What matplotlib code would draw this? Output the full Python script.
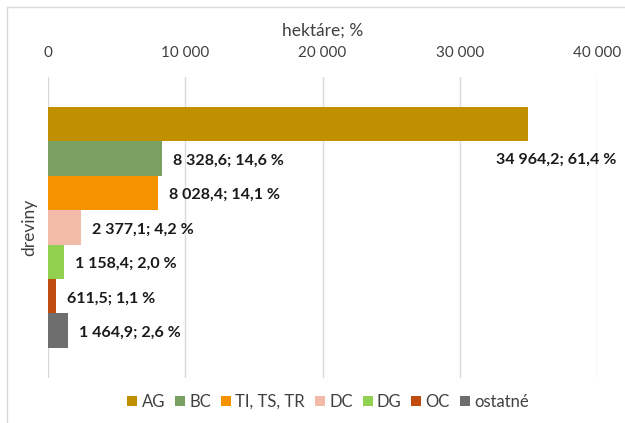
import matplotlib.pyplot as plt
from matplotlib.lines import Line2D

# data
category = 'dreviny'
series = ['AG', 'BC', 'TI, TS, TR', 'DC', 'DG', 'OC', 'ostatné']
hectares = [34964.2, 8328.6, 8028.4, 2377.1, 1158.4, 611.5, 1464.9]
percent = [61.4, 14.6, 14.1, 4.2, 2.0, 1.1, 2.6]
colors = ['#C09000', '#7A9F62', '#F59200', '#F2BBA8', '#92D050', '#C04D0F', '#6E6E6E']
xticks = [0, 10000, 20000, 30000, 40000]

plt.rcParams['font.family'] = ['Lato', 'DejaVu Sans']


def fmt_num(v, dec=1):
    s = f"{v:,.{dec}f}"
    return s.replace(',', ' ').replace('.', ',')


fig = plt.figure(figsize=(6.25, 4.23), dpi=100)
ax = fig.add_axes([48 / 625, 1 - 378 / 423, 549 / 625, 301 / 423])

n = len(series)
h = 0.8 / n
for i, (name, v, c) in enumerate(zip(series, hectares, colors)):
    y = (i - (n - 1) / 2) * h
    ax.barh(y, v, height=h, color=c, label=name, zorder=3)
    lbl = f"{fmt_num(v)}; {fmt_num(percent[i])} %"
    if i == 0:
        # label doesn't fit to the right, Excel put it below the bar
        ax.annotate(lbl, (v, y), xytext=(28, -35), textcoords='offset pixels',
                    ha='center', va='center', fontsize=11.5, fontweight='bold',
                    color='#1a1a1a', annotation_clip=False)
    else:
        ax.annotate(lbl, (v, y), xytext=(11, -2), textcoords='offset pixels',
                    ha='left', va='center', fontsize=11.5, fontweight='bold',
                    color='#1a1a1a')

ax.set_ylim(0.5, -0.5)
ax.set_xlim(0, 40000)
ax.set_yticks([])
ax.set_xticks(xticks)
ax.set_xticklabels([fmt_num(t, 0) for t in xticks], fontsize=11, color='#404040')
ax.xaxis.tick_top()
ax.xaxis.set_label_position('top')
ax.tick_params(axis='x', length=0, pad=12)
ax.set_xlabel('hektáre; %', fontsize=12.5, color='#404040', labelpad=8)
ax.set_ylabel(category, fontsize=12.5, color='#404040', labelpad=8)
ax.grid(axis='x', color='#D9D9D9', linewidth=1, zorder=0)
for s in ax.spines.values():
    s.set_visible(False)

fig.legend(loc='center', bbox_to_anchor=(0.525, 1 - 402 / 423), ncol=n, frameon=False,
           fontsize=12, handlelength=0.6, handleheight=0.6, handletextpad=0.25,
           columnspacing=0.6, labelcolor='#404040')

# chart border (partly cut off in the original screenshot)
fig.add_artist(Line2D([7 / 625, 7 / 625], [0, 1 - 7 / 423], color='#D9D9D9', lw=1))
fig.add_artist(Line2D([7 / 625, 1], [1 - 7 / 423, 1 - 7 / 423], color='#D9D9D9', lw=1))

fig.savefig('out.png', dpi=100)
